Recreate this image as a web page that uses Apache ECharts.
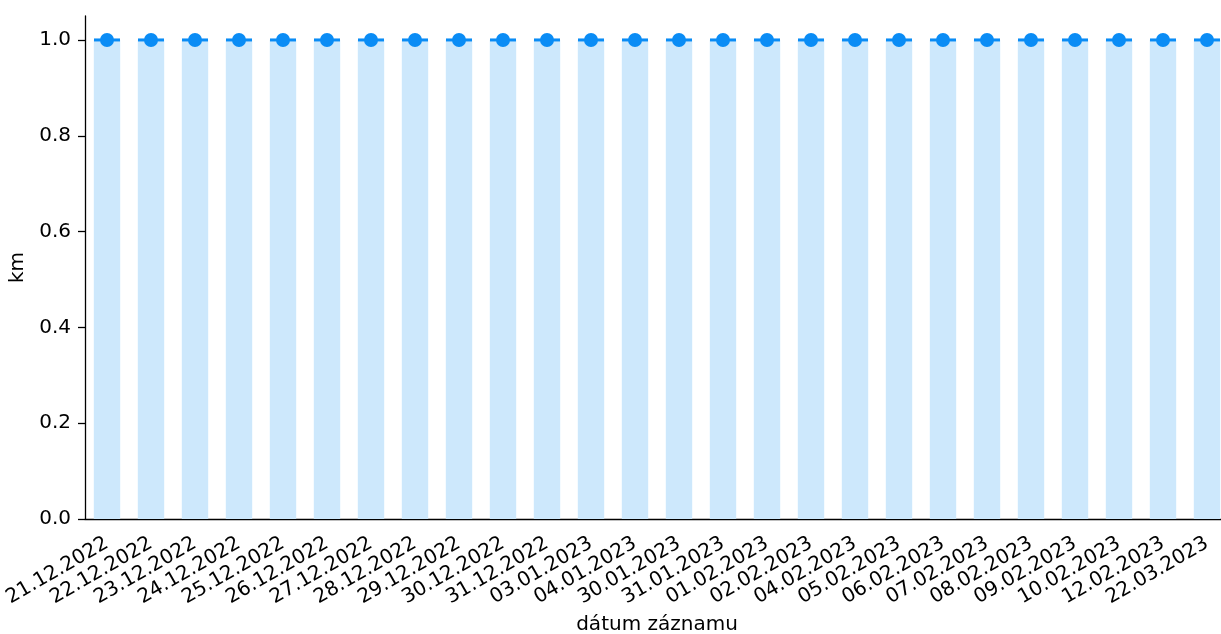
<!DOCTYPE html>
<html>
<head>
<meta charset="utf-8">
<script src="https://cdn.jsdelivr.net/npm/echarts@6/dist/echarts.min.js"></script>
<style>html,body{margin:0;padding:0;background:#fff}#c{width:1221px;height:634px}</style>
</head>
<body>
<div id="c"></div>
<script>
const categories = ['21.12.2022','22.12.2022','23.12.2022','24.12.2022','25.12.2022','26.12.2022','27.12.2022','28.12.2022','29.12.2022','30.12.2022','31.12.2022','03.01.2023','04.01.2023','30.01.2023','31.01.2023','01.02.2023','02.02.2023','04.02.2023','05.02.2023','06.02.2023','07.02.2023','08.02.2023','09.02.2023','10.02.2023','12.02.2023','22.03.2023'];
const barValues = [1,1,1,1,1,1,1,1,1,1,1,1,1,1,1,1,1,1,1,1,1,1,1,1,1,1];
const pointValues = [1,1,1,1,1,1,1,1,1,1,1,1,1,1,1,1,1,1,1,1,1,1,1,1,1,1];
const yTicks = [0, 0.2, 0.4, 0.6, 0.8, 1.0];

const chart = echarts.init(document.getElementById('c'), null, {renderer: 'canvas'});
const font = 'DejaVu Sans';
chart.setOption({
  animation: false,
  grid: {left: 85, top: 16, width: 1144, height: 503, containLabel: false, outerBoundsMode: 'none'},
  xAxis: {
    type: 'category',
    data: categories,
    boundaryGap: true,
    name: 'dátum záznamu',
    nameLocation: 'middle',
    nameGap: 96,
    nameTextStyle: {fontFamily: font, fontSize: 20, color: '#000'},
    axisLine: {lineStyle: {color: '#000', width: 1.3}},
    axisTick: {show: false},
    axisLabel: {rotate: 30, interval: 0, margin: 23, fontFamily: font, fontSize: 20, color: '#000'},
    splitLine: {show: false}
  },
  yAxis: {
    type: 'value',
    min: 0,
    max: 1.05,
    name: 'km',
    nameLocation: 'middle',
    nameGap: 57,
    nameTextStyle: {fontFamily: font, fontSize: 20, color: '#000'},
    axisLine: {show: true, lineStyle: {color: '#000', width: 1.3}},
    axisTick: {show: true, length: 7, lineStyle: {color: '#000', width: 1.3}, customValues: yTicks},
    axisLabel: {fontFamily: font, fontSize: 20, color: '#000', margin: 14, customValues: yTicks,
      formatter: v => v.toFixed(1)},
    splitLine: {show: false}
  },
  series: [
    {
      type: 'bar',
      data: barValues,
      barWidth: '60%',
      itemStyle: {color: '#cde8fc'},
      z: 1
    },
    {
      type: 'scatter',
      data: pointValues,
      symbol: 'rect',
      symbolSize: [26, 3],
      itemStyle: {color: '#0a8cf5', opacity: 1},
      z: 2
    },
    {
      type: 'scatter',
      data: pointValues,
      symbol: 'circle',
      symbolSize: 14,
      itemStyle: {color: '#0a8cf5', opacity: 1},
      z: 3
    }
  ]
});
</script>
</body>
</html>
